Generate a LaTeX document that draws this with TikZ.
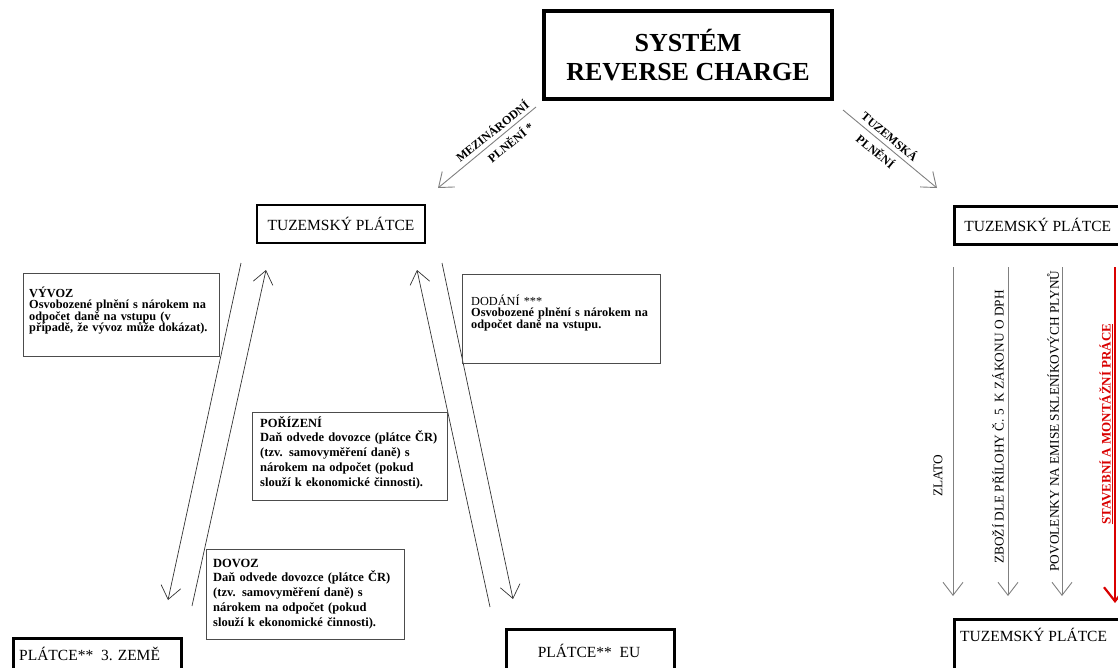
\documentclass[tikz,border=0pt]{standalone}
\usepackage{fontspec}
\setmainfont{Liberation Serif}
\usetikzlibrary{arrows.meta}
\setlength{\lineskiplimit}{-50pt}
\newcommand{\jl}[1]{\makebox[\linewidth][s]{#1}}
\begin{document}
\begin{tikzpicture}[x=1pt,y=-1pt,
  bigbox/.style={draw=black, line width=2.5pt, minimum height=38, inner sep=0pt, font=\fontsize{15.5}{18}\selectfont},
  infobox/.style={draw=black!70, line width=0.8pt, anchor=north west, inner sep=0pt},
  infotight/.style={anchor=base west, inner sep=0pt, align=left, font=\fontsize{12.3}{11.6}\selectfont\bfseries},
  infoloose/.style={anchor=base west, inner sep=0pt, align=left, font=\fontsize{12.5}{14.8}\selectfont\bfseries},
  graytip/.style={draw=black!50, line width=0.9pt, -{Straight Barb[length=13,width=20]}},
  darktip/.style={draw=black!80, line width=0.7pt, -{Straight Barb[length=13,width=20]}},
  difflabel/.style={inner sep=0pt, font=\fontsize{12}{12}\selectfont\bfseries},
  vlabel/.style={inner sep=0pt, rotate=90, font=\fontsize{13.3}{13}\selectfont}
]
\useasboundingbox (0,0) rectangle (1118,667);

% title
\node[draw=black, line width=3.5pt, minimum width=288, minimum height=88, inner sep=0pt, align=center,
      font=\fontsize{26}{29}\selectfont\bfseries] (title) at (688,55) {SYSTÉM\\REVERSE CHARGE};

% main boxes
\node[bigbox, minimum width=168] (tpl) at (341,224) {TUZEMSKÝ PLÁTCE};
\node[bigbox, minimum width=175, anchor=north west] (tpr) at (953,205) {\hspace*{-8pt}TUZEMSKÝ PLÁTCE};
\node[bigbox, minimum width=175, minimum height=60, anchor=north west] (tpb) at (953,618) {};
\node[font=\fontsize{15.5}{18}\selectfont, anchor=base west, inner sep=0pt] (tpbt) at (960,641) {TUZEMSKÝ PLÁTCE};
\node[bigbox, minimum width=168, minimum height=60, anchor=north west] (p3) at (12,637) {};
\node[font=\fontsize{15.5}{18}\selectfont, anchor=base west, inner sep=0pt] (p3t) at (19,660) {PLÁTCE**~ 3. ZEMĚ};
\node[bigbox, minimum width=168, minimum height=60, anchor=north west] (peu) at (505,628) {};
\node[font=\fontsize{15.5}{18}\selectfont, anchor=base, inner sep=0pt] (peut) at (589,657) {PLÁTCE**~ EU};

% diagonal arrows from title
\coordinate (mzs) at (536,107);
\coordinate (mze) at (438,188);
\draw[graytip] (mzs) -- (mze);
\node[difflabel, rotate=38.8] (mzl1) at (492,131) {MEZINÁRODNÍ};
\node[difflabel, rotate=38.8] (mzl2) at (510,142) {PLNĚNÍ *};

\coordinate (tzs) at (843,110);
\coordinate (tze) at (937,188);
\draw[graytip] (tzs) -- (tze);
\node[difflabel, rotate=-39.7] (tzl1) at (890,136) {TUZEMSKÁ};
\node[difflabel, rotate=-39.7] (tzl2) at (876,151) {PLNĚNÍ};

% left crossing arrows
\coordinate (a1s) at (241,263); \coordinate (a1e) at (168,600);
\coordinate (a2s) at (192,606); \coordinate (a2e) at (266,270);
\coordinate (a3s) at (490,607); \coordinate (a3e) at (417,270);
\coordinate (a4s) at (442,263); \coordinate (a4e) at (513,599);
\draw[darktip] (a1s) -- (a1e);
\draw[darktip] (a2s) -- (a2e);
\draw[darktip] (a3s) -- (a3e);
\draw[darktip] (a4s) -- (a4e);

% info boxes
\node[infobox, minimum width=196, minimum height=83] (vyvozbox) at (23,273) {};
\node[infotight, text width=187] (vyvoz) at (29,297) {VÝVOZ\\
\jl{Osvobozené plnění s nárokem na}\\
\jl{odpočet daně na vstupu (v}\\
\mbox{případě, že vývoz může dokázat).}};

\node[infobox, minimum width=198, minimum height=89] (dodanibox) at (462,274) {};
\node[infotight, text width=181] (dodani) at (471,305) {{\mdseries DODÁNÍ ***}\\
\jl{Osvobozené plnění s nárokem na}\\
odpočet daně na vstupu.};

\node[infobox, minimum width=195, minimum height=88] (porizbox) at (252,412) {};
\node[infoloose, text width=183] (poriz) at (260,427) {POŘÍZENÍ\\
\jl{Daň odvede dovozce (plátce ČR)}\\
\jl{(tzv. samovyměření daně) s}\\
\jl{nárokem na odpočet (pokud}\\
slouží k ekonomické činnosti).};

\node[infobox, minimum width=198, minimum height=90] (dovozbox) at (206,549) {};
\node[infoloose, text width=184] (dovoz) at (213,567) {DOVOZ\\
\jl{Daň odvede dovozce (plátce ČR)}\\
\jl{(tzv. samovyměření daně) s}\\
\jl{nárokem na odpočet (pokud}\\
slouží k ekonomické činnosti).};

% right vertical arrows
\coordinate (r1s) at (953,267); \coordinate (r1e) at (953,596);
\coordinate (r2s) at (1008,267); \coordinate (r2e) at (1008,596);
\coordinate (r3s) at (1062,267); \coordinate (r3e) at (1062,596);
\coordinate (r4s) at (1115,267); \coordinate (r4e) at (1115,603);
\draw[graytip] (r1s) -- (r1e);
\draw[graytip] (r2s) -- (r2e);
\draw[graytip] (r3s) -- (r3e);
\draw[draw=red!85!black, line width=2.2pt, -{Straight Barb[length=14,width=22]}] (r4s) -- (r4e);

\node[vlabel] (zlato) at (938,476) {ZLATO};
\node[vlabel] (zbozi) at (998,427) {ZBOŽÍ DLE PŘÍLOHY Č. 5~ K ZÁKONU O DPH};
\node[vlabel] (povol) at (1053,421) {POVOLENKY NA EMISE SKLENÍKOVÝCH PLYNŮ};
\node[vlabel, text=red!85!black, font=\fontsize{13}{13}\selectfont\bfseries] (stav) at (1106,424) {\underline{STAVEBNÍ A MONTÁŽNÍ PRÁCE}};
\end{tikzpicture}
\end{document}
